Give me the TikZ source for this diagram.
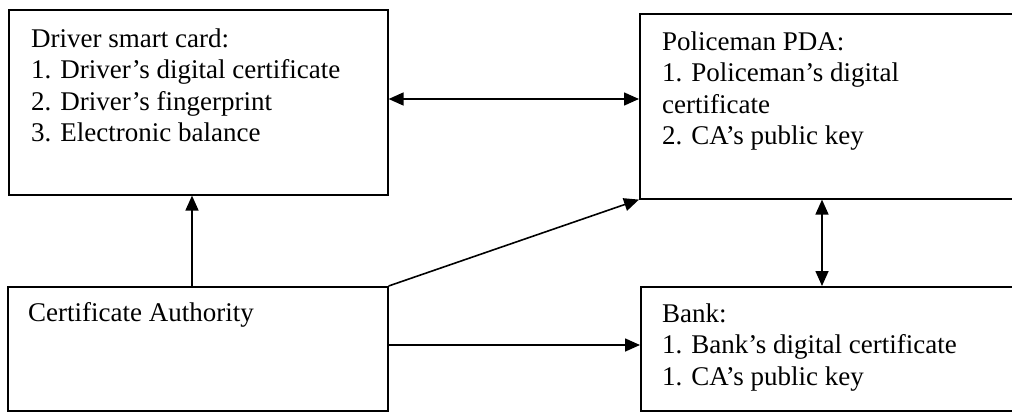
\documentclass[tikz,border=0pt]{standalone}
\usepackage{fontspec}
\setmainfont{Liberation Serif}
\usetikzlibrary{arrows.meta}
\begin{document}
\begin{tikzpicture}[x=1pt,y=-1pt,
  box/.style={draw, line width=1.6pt, inner sep=0pt, anchor=north west},
  lbl/.style={anchor=base west, inner sep=0pt, align=left, font=\fontsize{27}{31.6}\selectfont},
  conn/.style={line width=1.6pt, -{Triangle[length=15pt,width=13pt]}},
  bconn/.style={line width=1.6pt, {Triangle[length=15pt,width=13pt]}-{Triangle[length=15pt,width=13pt]}}]
\useasboundingbox (0,0) rectangle (1012,412);
\node[box, minimum width=379pt, minimum height=185pt] (A) at (8,9) {};
\node[box, minimum width=382pt, minimum height=185pt] (B) at (639,13) {};
\node[box, minimum width=380pt, minimum height=124pt] (C) at (7,286) {};
\node[box, minimum width=382pt, minimum height=124pt] (D) at (640,286) {};
% anchor base west = baseline of the last line
\node[lbl] (At) at (31,141.8) {Driver smart card:\\1. Driver's digital certificate\\2. Driver's fingerprint\\3. Electronic balance};
\node[lbl] (Bt) at (662,144.8) {Policeman PDA:\\1. Policeman's digital\\certificate\\2. CA's public key};
\node[lbl] (Ct) at (28,321) {Certificate Authority};
\node[lbl] (Dt) at (662,385.2) {Bank:\\1. Bank's digital certificate\\1. CA's public key};
\draw[bconn] (A.east |- 0,99) -- (B.west |- 0,99);
\draw[conn] (C.north -| 192,0) -- (A.south -| 192,0);
\draw[conn] (C.north east) -- (B.south west);
\draw[conn] (C.east |- 0,345) -- (D.west |- 0,345);
\draw[bconn] (B.south -| 822,0) -- (D.north -| 822,0);
\end{tikzpicture}
\end{document}
